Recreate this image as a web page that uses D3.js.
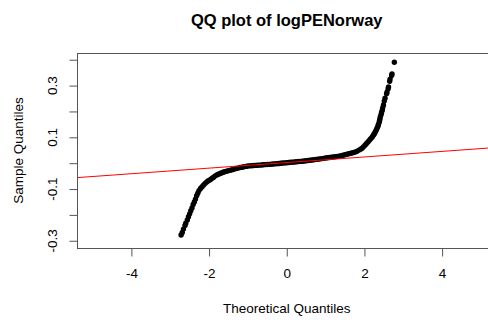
<!DOCTYPE html>
<html>
<head>
<meta charset="utf-8">
<script src="https://cdn.jsdelivr.net/npm/d3@7"></script>
<style>
  body { margin: 0; background: #fff; }
  text { font-family: "Liberation Sans", Arial, Helvetica, sans-serif; fill: #000; }
</style>
</head>
<body>
<svg></svg>
<script>
// theoretical quantiles
var theoretical = [
  -2.72, -2.69, -2.66, -2.62, -2.60, -2.56, -2.53, -2.50, -2.47, -2.44,
  -2.41, -2.38, -2.35, -2.32, -2.29, -2.26, -2.22, -2.18, -2.14, -2.10,
  -2.06, -2.02, -1.97, -1.93, -1.89, -1.85, -1.80, -1.76, -1.72, -1.68,
  -1.64, -1.60, -1.55, -1.50, -1.45, -1.40, -1.35, -1.30, -1.25, -1.20,
  -1.15, -1.10, -1.05, -1.00, -0.95, -0.90, -0.85, -0.80, -0.75, -0.70,
  -0.65, -0.60, -0.55, -0.50, -0.45, -0.40, -0.35, -0.30, -0.25, -0.20,
  -0.15, -0.10, -0.05, 0.00, 0.05, 0.10, 0.15, 0.20, 0.25, 0.30,
  0.35, 0.40, 0.45, 0.50, 0.55, 0.60, 0.65, 0.70, 0.75, 0.80,
  0.85, 0.90, 0.95, 1.00, 1.05, 1.10, 1.15, 1.20, 1.25, 1.30,
  1.35, 1.40, 1.45, 1.50, 1.55, 1.60, 1.65, 1.70, 1.75, 1.80,
  1.85, 1.90, 1.94, 1.98, 2.02, 2.06, 2.10, 2.14, 2.17, 2.20,
  2.23, 2.25, 2.27, 2.29, 2.31, 2.33, 2.35, 2.36, 2.38, 2.39,
  2.40, 2.41, 2.43, 2.44, 2.46, 2.47, 2.49, 2.51, 2.53, 2.57,
  2.58, 2.61, 2.62, 2.65, 2.66, 2.70, 2.71, 2.77
];
// sample quantiles (logPENorway), same order
var sample = [
  -0.278, -0.268, -0.255, -0.241, -0.232, -0.220, -0.207, -0.196, -0.184, -0.173,
  -0.160, -0.150, -0.139, -0.126, -0.116, -0.106, -0.098, -0.091, -0.084, -0.078,
  -0.073, -0.068, -0.064, -0.059, -0.055, -0.050, -0.046, -0.043, -0.040, -0.038,
  -0.035, -0.033, -0.031, -0.029, -0.027, -0.025, -0.023, -0.0205, -0.019, -0.017,
  -0.0155, -0.014, -0.0125, -0.0110, -0.0104, -0.0098, -0.0092, -0.0086, -0.0080, -0.0074,
  -0.0068, -0.0062, -0.0056, -0.0051, -0.0045, -0.0039, -0.0033, -0.0026, -0.0018, -0.0011,
  -0.0004, 0.0004, 0.0011, 0.0018, 0.0026, 0.0033, 0.0040, 0.0048, 0.0055, 0.0063,
  0.0070, 0.0077, 0.0085, 0.0093, 0.0102, 0.0113, 0.0123, 0.0134, 0.0145, 0.0155,
  0.0166, 0.0176, 0.0187, 0.0198, 0.0209, 0.0220, 0.0230, 0.0241, 0.0252, 0.0262,
  0.0273, 0.0287, 0.0305, 0.0325, 0.0345, 0.0365, 0.0385, 0.0405, 0.0425, 0.0455,
  0.0495, 0.0540, 0.0580, 0.0640, 0.0700, 0.0770, 0.0840, 0.0910, 0.0960, 0.1010,
  0.1080, 0.1130, 0.1180, 0.1240, 0.1300, 0.1370, 0.1440, 0.1500, 0.1580, 0.1650,
  0.1720, 0.1800, 0.1880, 0.1960, 0.2050, 0.2140, 0.2250, 0.2400, 0.2510, 0.2680,
  0.2740, 0.2880, 0.2950, 0.3170, 0.3250, 0.3390, 0.3450, 0.3900
];
// qqline: intercept and slope
var lineCoef = [0.0024, 0.0108];
var xTicks = [-4, -2, 0, 2, 4];
var yTicks = [-0.3, -0.2, -0.1, 0, 0.1, 0.2, 0.3, 0.4];
var yLabels = [-0.3, -0.1, 0.1, 0.3];
var xDomain = [-5.4, 5.4];
var yDomain = [-0.328, 0.426];

var svgWidth = 488, svgHeight = 320;
var plotLeft = 77, plotRight = 496.5, plotTop = 53, plotBottom = 248;

var svg = d3.select("svg")
    .attr("width", svgWidth)
    .attr("height", svgHeight);

var x = d3.scaleLinear().domain(xDomain).range([plotLeft, plotRight]);
var y = d3.scaleLinear().domain(yDomain).range([plotBottom, plotTop]);

var points = theoretical.map(function(d, i) { return { x: d, y: sample[i] }; });

svg.append("g")
    .selectAll("circle")
    .data(points)
    .enter().append("circle")
    .attr("cx", function(d) { return x(d.x); })
    .attr("cy", function(d) { return y(d.y); })
    .attr("r", 2.7)
    .attr("fill", "#000");

// red reference line, clipped to plot box
svg.append("clipPath").attr("id", "box")
    .append("rect")
    .attr("x", plotLeft).attr("y", plotTop)
    .attr("width", plotRight - plotLeft).attr("height", plotBottom - plotTop);

svg.append("line")
    .attr("clip-path", "url(#box)")
    .attr("x1", x(xDomain[0]))
    .attr("y1", y(lineCoef[0] + lineCoef[1] * xDomain[0]))
    .attr("x2", x(xDomain[1]))
    .attr("y2", y(lineCoef[0] + lineCoef[1] * xDomain[1]))
    .attr("stroke", "#ff0000")
    .attr("stroke-width", 1);

svg.append("rect")
    .attr("x", plotLeft + 0.5).attr("y", plotTop + 0.5)
    .attr("width", plotRight - plotLeft).attr("height", plotBottom - plotTop)
    .attr("fill", "none")
    .attr("stroke", "#555")
    .attr("stroke-width", 1);

var xAxis = svg.append("g")
    .attr("transform", "translate(0," + (plotBottom + 0.5) + ")")
    .call(d3.axisBottom(x).tickValues(xTicks).tickSize(8).tickPadding(12)
        .tickFormat(function(d) { return d; }));
xAxis.select(".domain").remove();
xAxis.selectAll("line").attr("stroke", "#555");
xAxis.selectAll("text").style("font-size", "13.5px").attr("fill", "#000");

var yAxis = svg.append("g")
    .attr("transform", "translate(" + (plotLeft + 0.5) + ",0)")
    .call(d3.axisLeft(y).tickValues(yTicks).tickSize(8).tickFormat(""));
yAxis.select(".domain").remove();
yAxis.selectAll("line").attr("stroke", "#555");

svg.append("g")
    .selectAll("text")
    .data(yLabels)
    .enter().append("text")
    .attr("transform", function(d) { return "translate(57," + y(d) + ") rotate(-90)"; })
    .attr("text-anchor", "middle")
    .style("font-size", "13.5px")
    .text(function(d) { return d; });

svg.append("text")
    .attr("x", (plotLeft + plotRight) / 2)
    .attr("y", 26)
    .attr("text-anchor", "middle")
    .style("font-size", "16.5px")
    .style("font-weight", "bold")
    .text("QQ plot of logPENorway");

svg.append("text")
    .attr("x", (plotLeft + plotRight) / 2)
    .attr("y", 313)
    .attr("text-anchor", "middle")
    .style("font-size", "13.5px")
    .text("Theoretical Quantiles");

svg.append("text")
    .attr("transform", "translate(23," + ((plotTop + plotBottom) / 2) + ") rotate(-90)")
    .attr("text-anchor", "middle")
    .style("font-size", "13.5px")
    .text("Sample Quantiles");
</script>
</body>
</html>
